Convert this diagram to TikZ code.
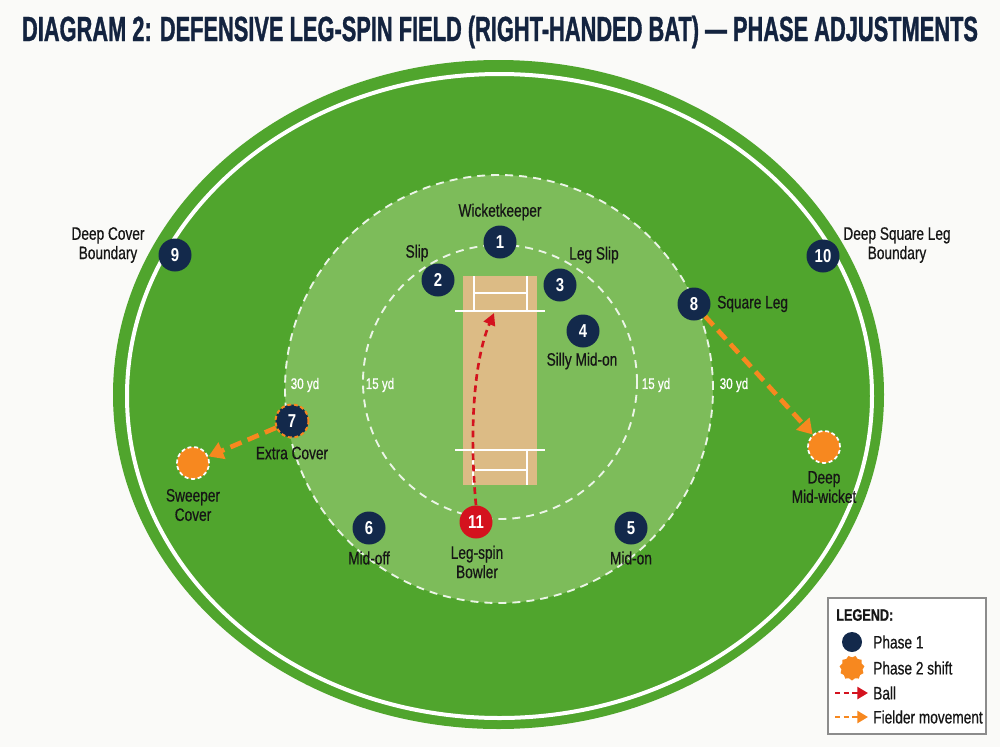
\documentclass[tikz,border=0pt]{standalone}
\usepackage{fontspec}
\setmainfont{Liberation Sans}
\newfontfamily\cond[FakeStretch=0.76,FakeBold=0.6]{Liberation Sans}
\newfontfamily\condn[FakeStretch=0.8]{Liberation Sans}
\newfontfamily\titlef[FakeStretch=0.66,FakeBold=1]{Liberation Sans}
\usetikzlibrary{arrows.meta,shapes.geometric}
\definecolor{bg}{HTML}{FAFAF8}
\definecolor{fieldgreen}{HTML}{50A52D}
\definecolor{innergreen}{HTML}{7DBC5A}
\definecolor{pitchcol}{HTML}{DCBB85}
\definecolor{navy}{HTML}{13294B}
\definecolor{ballred}{HTML}{D4121E}
\definecolor{orng}{HTML}{F7881F}
\definecolor{txt}{HTML}{161616}
\definecolor{titlecol}{HTML}{13233F}
\begin{document}
\begin{tikzpicture}[x=0.75pt,y=-0.75pt,
  fielder/.style={circle,fill=navy,text=white,minimum size=24.75pt,inner sep=0pt,font=\condn\bfseries\fontsize{14}{14}\selectfont},
  bowler/.style={fielder,fill=ballred},
  shifted/.style={circle,fill=orng,draw=white,dash pattern=on 3pt off 2pt,line width=1.3pt,minimum size=24pt,inner sep=0pt},
  lbl/.style={font=\cond\fontsize{13.5}{14.5}\selectfont,text=txt,align=center,inner sep=0pt},
  yd/.style={font=\cond\fontsize{11.5}{11.5}\selectfont,text=white,inner sep=0pt},
  crease/.style={draw=white,line width=2.2pt},
  move/.style={draw=orng,line width=3.5pt,dash pattern=on 9pt off 5pt,-{Triangle[length=11pt,width=13pt]}},
  ball/.style={draw=ballred,line width=2pt,dash pattern=on 5pt off 3.5pt,-{Triangle[length=9pt,width=9pt]}},
  ring/.style={draw=white!85!innergreen,line width=1.4pt,dash pattern=on 6pt off 4.5pt}
]
\useasboundingbox (0,0) rectangle (1000,747);
\fill[bg] (0,0) rectangle (1000,747);
% title
\node[text=titlecol,inner sep=0pt] (title) at (500,32) {\resizebox{717pt}{19pt}{\titlef\bfseries DIAGRAM 2: DEFENSIVE LEG-SPIN FIELD (RIGHT-HANDED BAT) — PHASE ADJUSTMENTS}};
% field
\fill[fieldgreen] (498.5,394.5) ellipse [x radius=289.125pt, y radius=250.875pt];
\draw[white,line width=3pt] (499.5,396) ellipse [x radius=279.375pt, y radius=241.5pt];
\fill[innergreen] (499,389) circle [radius=160.5pt];
\draw[ring] (499,389) circle [radius=160.5pt];
\draw[ring] (500,382) circle [radius=102.75pt];
% pitch
\fill[pitchcol] (463,276) rectangle (537,485);
\draw[crease] (455,311) -- (545,311);
\draw[crease] (474,276) -- (474,311);
\draw[crease] (527,276) -- (527,311);
\draw[crease] (474,293) -- (527,293);
\draw[crease] (455,450) -- (545,450);
\draw[crease] (473,450) -- (473,485);
\draw[crease] (527,450) -- (527,485);
\draw[crease] (473,470) -- (527,470);
% yardage labels
\node[yd] (y30l) at (305,385) {30 yd};
\node[yd] (y15l) at (380,385) {15 yd};
\node[yd] (y15r) at (656,385) {15 yd};
\node[yd] (y30r) at (734,385) {30 yd};
% phase 2 positions
\node[shifted] (sweep) at (193,463) {};
\node[shifted] (dmw) at (824,447) {};
% fielders
\node[fielder] (n1) at (500,242) {1};
\node[fielder] (n2) at (438,280) {2};
\node[fielder] (n3) at (560,285) {3};
\node[fielder] (n4) at (583,331) {4};
\node[fielder] (n5) at (631,528) {5};
\node[fielder] (n6) at (369,528) {6};
\node[fielder,draw=orng,dash pattern=on 3pt off 2pt,line width=1.5pt] (n7) at (292,421) {7};
\node[fielder] (n8) at (694,304) {8};
\node[fielder] (n9) at (175,255) {9};
\node[fielder] (n10) at (823,256) {10};
\node[bowler] (n11) at (476,522) {11};
% movements
\coordinate (balltip) at (494,313);
\draw[ball] (n11.north) .. controls (469,430) and (474,360) .. (balltip);
\draw[move] (n7) -- (sweep);
\draw[move] (n8) -- (dmw);
% labels
\node[lbl] (l1) at (500,212) {Wicketkeeper};
\node[lbl] (l2) at (417,253) {Slip};
\node[lbl] (l3) at (594,255) {Leg Slip};
\node[lbl] (l4) at (582,361) {Silly Mid-on};
\node[lbl] (l5) at (631,558) {Mid-on};
\node[lbl] (l6) at (369,558) {Mid-off};
\node[lbl] (l7) at (292,453) {Extra Cover};
\node[lbl,anchor=west] (l8) at (717,304) {Square Leg};
\node[lbl] (l9) at (108,245) {Deep Cover\\Boundary};
\node[lbl] (l10) at (897,245) {Deep Square Leg\\Boundary};
\node[lbl] (l11) at (477,562) {Leg-spin\\Bowler};
\node[lbl] (lsw) at (193,505) {Sweeper\\Cover};
\node[lbl] (ldmw) at (824,487) {Deep\\Mid-wicket};
% legend
\node[draw=black!45,fill=white,line width=0.8pt,minimum width=118.5pt,minimum height=102pt,inner sep=0pt] (legbox) at (907,666) {};
\node[lbl,anchor=west,font=\cond\bfseries\fontsize{12.5}{12.5}\selectfont] (legt) at (836,615) {LEGEND:};
\node[circle,fill=navy,minimum size=15pt,inner sep=0pt] (legc1) at (852,642) {};
\node[lbl,anchor=west] (legl1) at (873,642) {Phase 1};
\node[star,star points=11,star point ratio=0.85,fill=orng,minimum size=16pt,inner sep=0pt] (legc2) at (852,668) {};
\node[lbl,anchor=west] (legl2) at (873,668) {Phase 2 shift};
\coordinate (lb1) at (835,693);
\coordinate (lb2) at (868,693);
\draw[ball,line width=1.8pt,dash pattern=on 4pt off 2.5pt,-{Triangle[length=8pt,width=9pt]}] (lb1) -- (lb2);
\node[lbl,anchor=west] (legl3) at (873,693) {Ball};
\coordinate (lm1) at (835,717);
\coordinate (lm2) at (868,717);
\draw[move,line width=1.8pt,dash pattern=on 4pt off 2.5pt,-{Triangle[length=8pt,width=9pt]}] (lm1) -- (lm2);
\node[lbl,anchor=west] (legl4) at (873,717) {Fielder movement};
\end{tikzpicture}
\end{document}
